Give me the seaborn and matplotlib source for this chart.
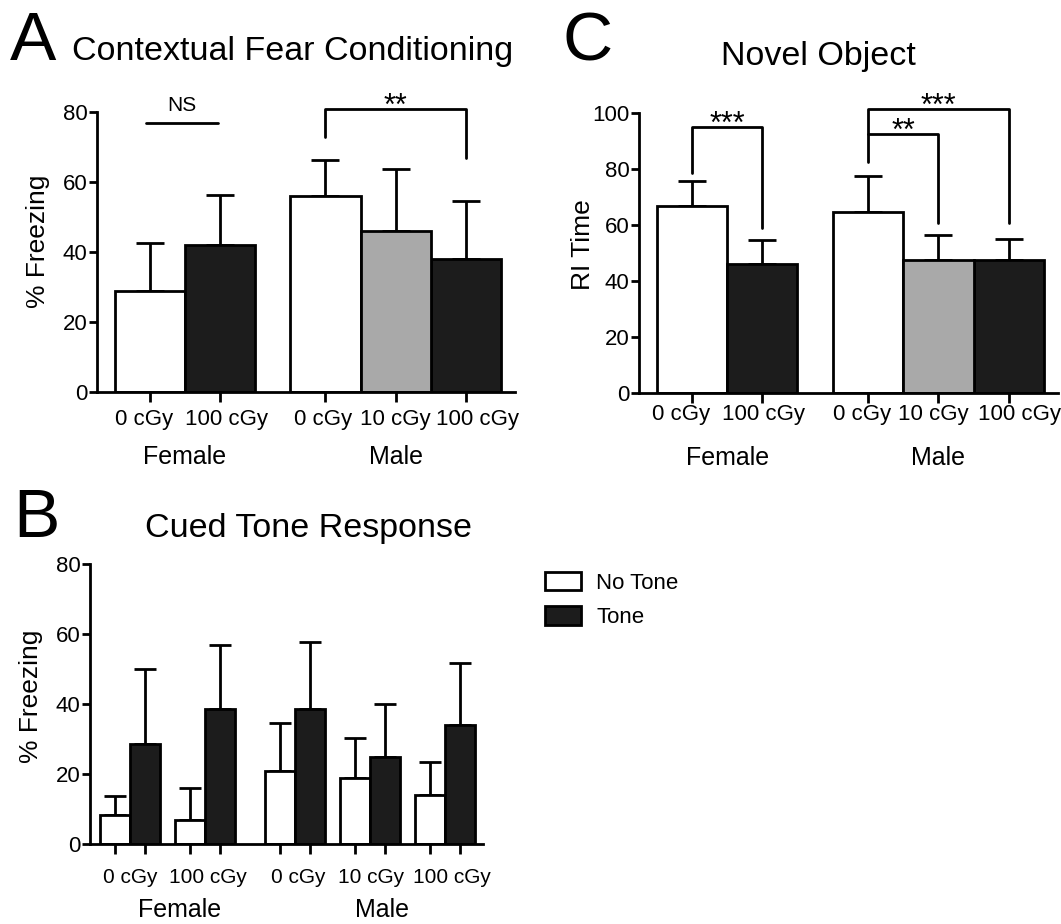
import numpy as np
import pandas as pd
import matplotlib.pyplot as plt
import matplotlib.transforms as mtransforms
import seaborn as sns

# Panel A: contextual fear conditioning, % freezing (mean + SEM)
a_sex = ['Female', 'Female', 'Male', 'Male', 'Male']
a_dose = ['0 cGy', '100 cGy', '0 cGy', '10 cGy', '100 cGy']
a_mean = [29.0, 42.1, 56.2, 46.2, 38.2]
a_sem = [13.6, 14.3, 10.2, 17.7, 16.4]

# Panel C: novel object, RI time (mean + SEM)
c_sex = ['Female', 'Female', 'Male', 'Male', 'Male']
c_dose = ['0 cGy', '100 cGy', '0 cGy', '10 cGy', '100 cGy']
c_mean = [67.0, 46.2, 64.6, 47.6, 47.6]
c_sem = [8.9, 8.6, 13.0, 8.9, 7.4]

# Panel B: cued tone response, % freezing (mean + SEM)
b_sex = ['Female', 'Female', 'Male', 'Male', 'Male']
b_dose = ['0 cGy', '100 cGy', '0 cGy', '10 cGy', '100 cGy']
b_notone_mean = [8.3, 7.1, 21.0, 18.9, 14.1]
b_notone_sem = [5.5, 9.0, 13.7, 11.4, 9.3]
b_tone_mean = [28.7, 38.6, 38.6, 25.0, 34.0]
b_tone_sem = [21.3, 18.4, 19.3, 15.0, 17.9]

# significance brackets: (bar i, bar j, top, left leg end, right leg end, label)
a_sig = [(2, 4, 80.9, 73.0, 67.0, '**')]
c_sig = [(0, 1, 95.0, 78.8, 58.9, '***'),
         (2, 3, 92.5, 92.5, 60.7, '**'),
         (2, 4, 101.4, 82.7, 60.7, '***')]

dose_colors = {'0 cGy': 'white', '10 cGy': '#a9a9a9', '100 cGy': '#1c1c1c'}

sns.set_theme(style='ticks', rc={
    'axes.edgecolor': 'black', 'axes.linewidth': 2,
    'xtick.color': 'black', 'ytick.color': 'black',
    'xtick.major.width': 2, 'ytick.major.width': 2,
    'xtick.minor.width': 2,
    'text.color': 'black', 'axes.labelcolor': 'black',
})
plt.rcParams['font.family'] = ['Liberation Sans', 'DejaVu Sans']

fig = plt.figure(figsize=(10.61, 9.24), dpi=100)
ax_a = fig.add_axes([0.0917, 0.5754, 0.3937, 0.3031])
ax_c = fig.add_axes([0.6023, 0.5744, 0.3949, 0.3030])
ax_b = fig.add_axes([0.0848, 0.0862, 0.3707, 0.3030])


def positions(sex, gap):
    grp = pd.factorize(pd.Series(sex))[0]
    return np.arange(len(sex)) + gap * grp


def group_labels(ax, sex, pos, y, shift=0):
    s = pd.Series(pos, index=sex)
    off = mtransforms.ScaledTranslation(shift / 72, 0, fig.dpi_scale_trans)
    for name in pd.unique(pd.Series(sex)):
        ax.text(s[name].mean(), y, name, transform=ax.get_xaxis_transform() + off,
                ha='center', va='baseline', fontsize=18)


def nudge_ticklabels(ax, shifts):
    # small horizontal nudges (points) so neighbouring labels do not collide
    for lab, dx in zip(ax.get_xticklabels(), shifts):
        lab.set_transform(lab.get_transform() +
                          mtransforms.ScaledTranslation(dx / 72, 0, fig.dpi_scale_trans))


def dose_panel(ax, sex, dose, mean, sem, ylabel, ymax, tick_pad, sig):
    pos = positions(sex, 0.5)
    df = pd.DataFrame({'pos': pos, 'mean': mean, 'dose': dose})
    sns.barplot(data=df, x='pos', y='mean', hue='dose', palette=dose_colors,
                native_scale=True, width=1.0, edgecolor='black', linewidth=2,
                errorbar=None, legend=False, ax=ax)
    ax.errorbar(pos, mean, yerr=[np.zeros(len(sem)), sem], fmt='none',
                ecolor='black', elinewidth=2, capsize=10, capthick=2, zorder=0.5)
    ax.set_xlim(pos[0] - 0.75, pos[-1] + 0.7)
    ax.set_ylim(0, ymax)
    ax.set_yticks(np.arange(0, ymax + 1, 20))
    ax.set_xticks(pos)
    ax.set_xticklabels(dose)
    ax.tick_params(axis='x', length=7, pad=tick_pad, labelsize=16)
    ax.tick_params(axis='y', length=6, pad=1, labelsize=16)
    ax.set_xlabel('')
    ax.set_ylabel(ylabel, fontsize=19)
    sns.despine(ax=ax)
    group_labels(ax, sex, pos, -0.255)
    for i, j, top, l_end, r_end, label in sig:
        ax.plot([pos[i], pos[i], pos[j], pos[j]], [l_end, top, top, r_end],
                color='black', lw=2, clip_on=False)
        ax.annotate(label, xy=((pos[i] + pos[j]) / 2, top), xytext=(0, -4),
                    textcoords='offset points', ha='center', va='baseline',
                    fontsize=22, annotation_clip=False)
    return pos


# ---- Panel A
pos_a = dose_panel(ax_a, a_sex, a_dose, a_mean, a_sem, '% Freezing', 80, 5, a_sig)
ax_a.yaxis.set_label_coords(-0.113, 0.54)
nudge_ticklabels(ax_a, [-4.5, 4.5, -1.5, -0.5, 8.5])
ax_a.plot([pos_a[0] - 0.06, pos_a[1] - 0.03], [76.9, 76.9], color='black', lw=2)
ax_a.annotate('NS', xy=((pos_a[0] + pos_a[1]) / 2 - 0.05, 76.9), xytext=(0, 9),
              textcoords='offset points', ha='center', va='baseline', fontsize=15)

# ---- Panel C
pos_c = dose_panel(ax_c, c_sex, c_dose, c_mean, c_sem, 'RI Time', 100, 1, c_sig)
ax_c.yaxis.set_label_coords(-0.105, 0.53)
nudge_ticklabels(ax_c, [-8, 1, -4.3, -3.6, 8])

# ---- Panel B
pos_b = positions(b_sex, 0.2)
df_b = pd.DataFrame({
    'pos': np.concatenate([pos_b, pos_b]),
    'freeze': b_notone_mean + b_tone_mean,
    'tone': ['No Tone'] * len(pos_b) + ['Tone'] * len(pos_b),
})
sns.barplot(data=df_b, x='pos', y='freeze', hue='tone', hue_order=['No Tone', 'Tone'],
            palette=['white', '#1c1c1c'], native_scale=True, width=0.8,
            edgecolor='black', linewidth=2, errorbar=None, ax=ax_b)
# bar centres per hue level, taken from the drawn bar containers
centers = []
for cont in ax_b.containers:
    centers.append([p.get_x() + p.get_width() / 2 for p in cont.patches])
centers = np.concatenate(centers)
b_means = np.array(b_notone_mean + b_tone_mean)
b_sems = np.array(b_notone_sem + b_tone_sem)
ax_b.errorbar(centers, b_means, yerr=[np.zeros(len(b_sems)), b_sems], fmt='none',
              ecolor='black', elinewidth=2, capsize=8, capthick=2, zorder=0.5)
ax_b.set_xlim(pos_b[0] - 0.53, pos_b[-1] + 0.51)
ax_b.set_ylim(0, 80)
ax_b.set_yticks(np.arange(0, 81, 20))
ax_b.set_xticks(pos_b)
ax_b.set_xticklabels(b_dose)
ax_b.set_xticks(centers, minor=True)
ax_b.tick_params(axis='x', which='major', length=0, pad=17, labelsize=15)
ax_b.tick_params(axis='x', which='minor', length=7)
ax_b.tick_params(axis='y', length=6, pad=1, labelsize=16)
ax_b.set_xlabel('')
ax_b.set_ylabel('% Freezing', fontsize=19)
ax_b.yaxis.set_label_coords(-0.12, 0.53)
nudge_ticklabels(ax_b, [0.7, 2.5, 2.2, 0.7, 5])
sns.despine(ax=ax_b)
group_labels(ax_b, b_sex, pos_b, -0.26, shift=8.5)
sns.move_legend(ax_b, 'upper left', bbox_to_anchor=(0.5137, 0.381),
                bbox_transform=fig.transFigure, frameon=False, title=None,
                fontsize=16, handlelength=1.6, handleheight=0.9,
                handletextpad=0.7, labelspacing=0.55, borderpad=0, borderaxespad=0)

# panel letters and titles
fig.text(0.0094, 0.935, 'A', fontsize=50, va='baseline')
fig.text(0.0679, 0.935, 'Contextual Fear Conditioning', fontsize=24.5, va='baseline')
fig.text(0.5297, 0.935, 'C', fontsize=50, va='baseline')
fig.text(0.771, 0.9297, 'Novel Object', fontsize=24.5, va='baseline', ha='center')
fig.text(0.0123, 0.4188, 'B', fontsize=50, va='baseline')
fig.text(0.2912, 0.4188, 'Cued Tone Response', fontsize=24.5, va='baseline', ha='center')

fig.savefig('out.png', dpi=100)
